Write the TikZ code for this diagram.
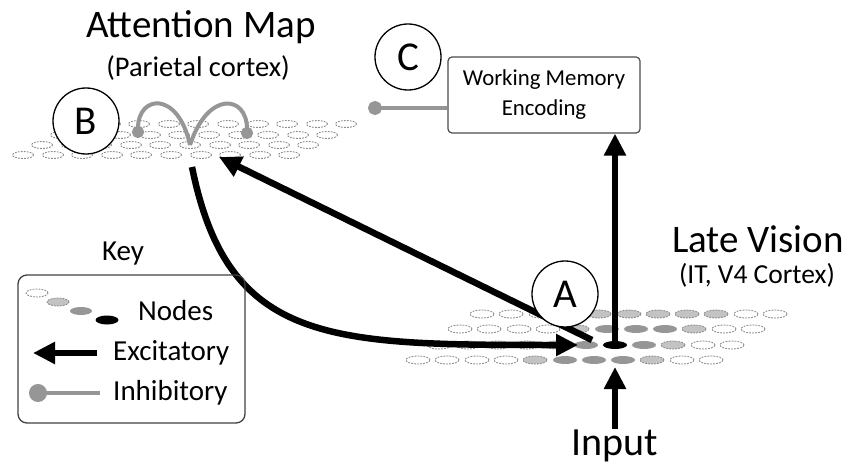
\documentclass[tikz,border=0pt]{standalone}
\usepackage{fontspec}
\setmainfont{Carlito}
\usetikzlibrary{shapes.geometric,arrows.meta}

\definecolor{dashgray}{RGB}{140,140,140}
\definecolor{lightfill}{RGB}{195,195,195}
\definecolor{midfill}{RGB}{150,150,150}
\definecolor{inhgray}{RGB}{150,150,150}

\tikzset{
  nodeoff/.style={ellipse,inner sep=0pt,draw=dashgray,dash pattern=on 1.8pt off 1.2pt,line width=0.9pt,fill=white,minimum width=24pt,minimum height=8pt},
  nodelow/.style={nodeoff,fill=lightfill},
  nodemid/.style={ellipse,inner sep=0pt,fill=midfill,minimum width=24pt,minimum height=8pt},
  nodetop/.style={nodemid,fill=black},
  areacirc/.style={circle,draw,line width=1.3pt,fill=white,minimum size=66pt,inner sep=0pt,font=\fontsize{41}{41}\selectfont},
  membox/.style={draw=black!70,line width=1.2pt,rounded corners=4pt,fill=white,minimum width=192pt,minimum height=76pt,align=center,font=\fontsize{22.8}{30}\selectfont},
  txt/.style={inner sep=0pt,anchor=base},
  excite/.style={line width=6.5pt,-{Triangle[length=22pt,width=21pt]}},
  inhibit/.style={draw=inhgray,line width=4pt,-{Circle[length=12pt]}}
}

\begin{document}
\begin{tikzpicture}[x=1pt,y=-1pt]
\useasboundingbox (0,0) rectangle (848,465);

% attention map
\begin{scope}[every node/.style={nodeoff,minimum width=21pt,minimum height=7pt}]
\node (b1-1) at (80,124) {};
\node (b1-2) at (110,124) {};
\node (b1-3) at (139,124) {};
\node (b1-4) at (169,124) {};
\node (b1-5) at (198,124) {};
\node (b1-6) at (228,124) {};
\node (b1-7) at (258,124) {};
\node (b1-8) at (287,124) {};
\node (b1-9) at (317,124) {};
\node (b1-10) at (346,124) {};
\node (b2-1) at (61,135) {};
\node (b2-2) at (91,135) {};
\node (b2-3) at (120,135) {};
\node (b2-4) at (150,135) {};
\node (b2-5) at (179,135) {};
\node (b2-6) at (209,135) {};
\node (b2-7) at (239,135) {};
\node (b2-8) at (268,135) {};
\node (b2-9) at (298,135) {};
\node (b2-10) at (327,135) {};
\node (b3-1) at (42,145) {};
\node (b3-2) at (72,145) {};
\node (b3-3) at (101,145) {};
\node (b3-4) at (131,145) {};
\node (b3-5) at (160,145) {};
\node (b3-6) at (190,145) {};
\node (b3-7) at (220,145) {};
\node (b3-8) at (249,145) {};
\node (b3-9) at (279,145) {};
\node (b3-10) at (308,145) {};
\node (b4-1) at (23,155) {};
\node (b4-2) at (53,155) {};
\node (b4-3) at (82,155) {};
\node (b4-4) at (112,155) {};
\node (b4-5) at (141,155) {};
\node (b4-6) at (171,155) {};
\node (b4-7) at (201,155) {};
\node (b4-8) at (230,155) {};
\node (b4-9) at (260,155) {};
\node (b4-10) at (289,155) {};
\end{scope}

% late vision
\begin{scope}
\node[nodeoff] (a1-1) at (482,314) {};
\node[nodeoff] (a1-2) at (511,314) {};
\node[nodeoff] (a1-3) at (541,314) {};
\node[nodeoff] (a1-4) at (570,314) {};
\node[nodelow] (a1-5) at (599,314) {};
\node[nodelow] (a1-6) at (629,314) {};
\node[nodelow] (a1-7) at (658,314) {};
\node[nodelow] (a1-8) at (687,314) {};
\node[nodelow] (a1-9) at (716,314) {};
\node[nodeoff] (a1-10) at (746,314) {};
\node[nodeoff] (a1-11) at (775,314) {};
\node[nodeoff] (a2-1) at (460,329) {};
\node[nodeoff] (a2-2) at (489,329) {};
\node[nodeoff] (a2-3) at (519,329) {};
\node[nodeoff] (a2-4) at (548,329) {};
\node[nodelow] (a2-5) at (577,329) {};
\node[nodemid] (a2-6) at (607,329) {};
\node[nodemid] (a2-7) at (636,329) {};
\node[nodemid] (a2-8) at (665,329) {};
\node[nodelow] (a2-9) at (694,329) {};
\node[nodeoff] (a2-10) at (724,329) {};
\node[nodeoff] (a2-11) at (753,329) {};
\node[nodeoff] (a3-1) at (439,345) {};
\node[nodeoff] (a3-2) at (468,345) {};
\node[nodeoff] (a3-3) at (498,345) {};
\node[nodeoff] (a3-4) at (527,345) {};
\node[nodelow] (a3-5) at (556,345) {};
\node[nodemid] (a3-6) at (586,345) {};
\node[nodetop] (a3-7) at (615,345) {};
\node[nodemid] (a3-8) at (644,345) {};
\node[nodelow] (a3-9) at (673,345) {};
\node[nodeoff] (a3-10) at (703,345) {};
\node[nodeoff] (a3-11) at (732,345) {};
\node[nodeoff] (a4-1) at (418,360) {};
\node[nodeoff] (a4-2) at (447,360) {};
\node[nodeoff] (a4-3) at (477,360) {};
\node[nodeoff] (a4-4) at (506,360) {};
\node[nodelow] (a4-5) at (535,360) {};
\node[nodemid] (a4-6) at (565,360) {};
\node[nodemid] (a4-7) at (594,360) {};
\node[nodemid] (a4-8) at (623,360) {};
\node[nodelow] (a4-9) at (652,360) {};
\node[nodeoff] (a4-10) at (682,360) {};
\node[nodeoff] (a4-11) at (711,360) {};
\end{scope}

\coordinate (bl) at (138,138);
\coordinate (br) at (247,139);
\draw[inhibit] (b3-6.center) .. controls (178,90) and (138,95) .. (bl);
\draw[inhibit] (b3-6.center) .. controls (208,90) and (247,95) .. (br);

\node[membox] (wm) at (544,95) {Working Memory\\Encoding};
\node[txt,font=\fontsize{40}{48}\selectfont] (input) at (615,455) {Input};

\coordinate (atail) at (592,340);
\coordinate (bhead) at (219,157);
\coordinate (btail) at (192,167);
\coordinate (ahead) at (578,345);
\coordinate (inhead) at (615,367);
\coordinate (cdot) at (368,108);
\draw[excite] (atail) -- (bhead);
\draw[excite] (btail) .. controls (228,345) and (330,345) .. (ahead);
\draw[excite] (a3-7.center) -- (wm.south -| a3-7);
\draw[excite] (input.north) -- (inhead);
\draw[inhibit,-{Circle[length=14pt]}] (wm.west |- cdot) -- (cdot);

\node[areacirc] (A) at (565,294) {A};
\node[areacirc] (B) at (86,121) {B};
\node[areacirc] (C) at (408,57) {C};

\node[txt,font=\fontsize{39}{47}\selectfont] (attn) at (201,38) {Attention Map};
\node[txt,font=\fontsize{28.5}{34}\selectfont] (attnsub) at (198,77) {(Parietal cortex)};
\node[txt,font=\fontsize{39}{47}\selectfont] (late) at (758,252) {Late Vision};
\node[txt,font=\fontsize{27.5}{33}\selectfont] (latesub) at (757,283) {(IT, V4 Cortex)};

% key
\node[txt,font=\fontsize{29}{35}\selectfont] (keytitle) at (123,260) {Key};
\node[draw=black!75,line width=1.3pt,rounded corners=9pt,minimum width=227pt,minimum height=148pt] (key) at (131.5,349) {};
\node[nodeoff,minimum width=22pt] (k1) at (37,293) {};
\node[nodelow,minimum width=22pt] (k2) at (58,302) {};
\node[nodemid,minimum width=22pt] (k3) at (81,311) {};
\node[nodetop,minimum width=23pt,minimum height=9pt] (k4) at (107,320) {};
\node[txt,anchor=base west,font=\fontsize{29}{35}\selectfont] (knodes) at (138,320) {Nodes};
\coordinate (kex) at (97,353);
\coordinate (kexend) at (33,353);
\draw[excite] (kex) -- (kexend);
\node[txt,anchor=base west,font=\fontsize{29}{35}\selectfont] (kexc) at (113,360) {Excitatory};
\coordinate (kin) at (100,393);
\coordinate (kinend) at (29,393);
\draw[inhibit,-{Circle[length=18pt]}] (kin) -- (kinend);
\node[txt,anchor=base west,font=\fontsize{29}{35}\selectfont] (kinh) at (113,400) {Inhibitory};

\end{tikzpicture}
\end{document}
